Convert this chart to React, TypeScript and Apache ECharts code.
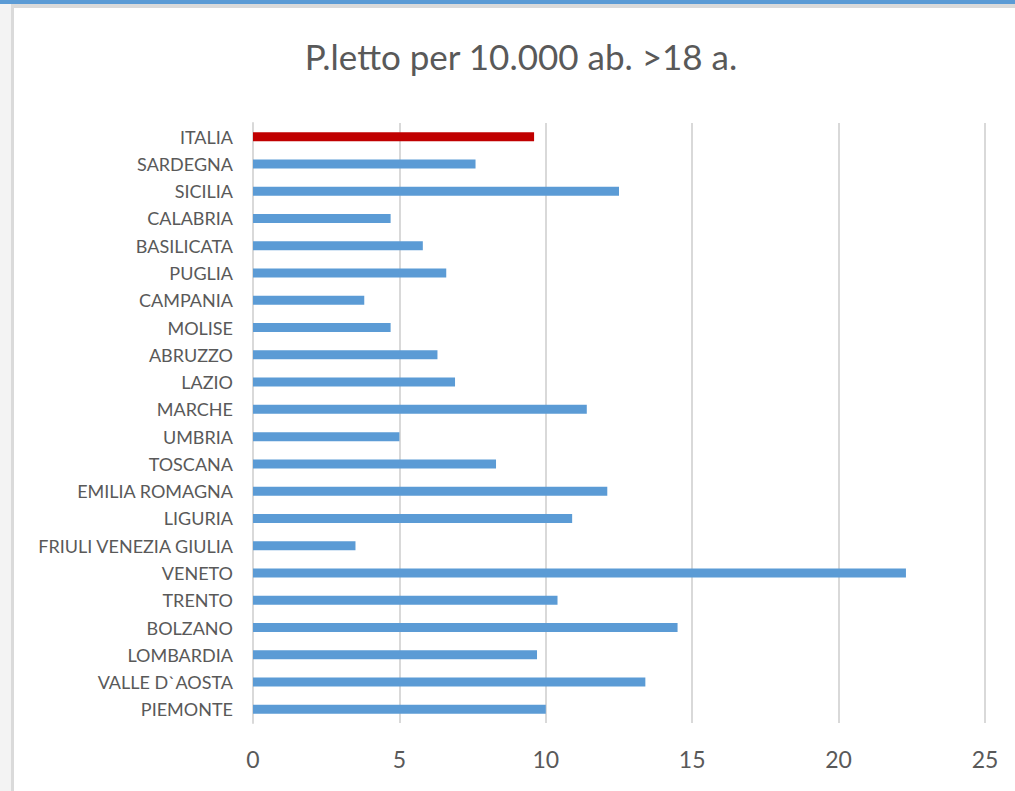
import React, { useEffect, useRef } from "react";
import * as echarts from "echarts";

const categories = [
  "ITALIA",
  "SARDEGNA",
  "SICILIA",
  "CALABRIA",
  "BASILICATA",
  "PUGLIA",
  "CAMPANIA",
  "MOLISE",
  "ABRUZZO",
  "LAZIO",
  "MARCHE",
  "UMBRIA",
  "TOSCANA",
  "EMILIA ROMAGNA",
  "LIGURIA",
  "FRIULI VENEZIA GIULIA",
  "VENETO",
  "TRENTO",
  "BOLZANO",
  "LOMBARDIA",
  "VALLE D`AOSTA",
  "PIEMONTE",
];

const values = [
  9.6, 7.6, 12.5, 4.7, 5.8, 6.6, 3.8, 4.7, 6.3, 6.9, 11.4, 5.0, 8.3, 12.1, 10.9,
  3.5, 22.3, 10.4, 14.5, 9.7, 13.4, 10.0,
];

const highlight = "ITALIA";
const titleText = "P.letto per 10.000 ab. >18 a.";

export default function App() {
  const ref = useRef<HTMLDivElement>(null);

  useEffect(() => {
    if (!ref.current) return;
    const chart = echarts.init(ref.current, undefined, { renderer: "svg" });
    const font = "Lato, 'Open Sans', sans-serif";
    chart.setOption({
      animation: false,
      backgroundColor: "#ffffff",
      graphic: [
        { type: "rect", shape: { x: 0, y: 0, width: 1015, height: 791 }, style: { fill: "#ffffff" }, z: -10 },
        { type: "rect", shape: { x: 0, y: 0, width: 11, height: 791 }, style: { fill: "#F3F3F3" }, z: -5 },
        { type: "rect", shape: { x: 0, y: 0, width: 1015, height: 4 }, style: { fill: "#5B9BD5" }, z: 5 },
        { type: "rect", shape: { x: 11, y: 4, width: 1004, height: 4 }, style: { fill: "#DADADA" }, z: 5 },
        { type: "rect", shape: { x: 11, y: 4, width: 3, height: 787 }, style: { fill: "#DADADA" }, z: 5 },
        {
          type: "text",
          x: 521,
          y: 56,
          style: {
            text: titleText,
            fill: "#595959",
            font: `35px ${font}`,
            textAlign: "center",
            textVerticalAlign: "middle",
          },
          z: 5,
        },
      ],
      grid: { left: 253, right: 30, top: 123, bottom: 68, containLabel: false },
      xAxis: {
        type: "value",
        min: 0,
        max: 25,
        interval: 5,
        axisLine: { show: false },
        axisTick: { show: false },
        axisLabel: { color: "#595959", fontSize: 23, fontFamily: font, margin: 24 },
        splitLine: { show: true, lineStyle: { color: "#D9D9D9", width: 2 } },
      },
      yAxis: {
        type: "category",
        data: categories,
        inverse: true,
        axisLine: { show: true, lineStyle: { color: "#D9D9D9", width: 2 } },
        axisTick: { show: false },
        axisLabel: { color: "#595959", fontSize: 18, fontFamily: font, margin: 20 },
      },
      series: [
        {
          type: "bar",
          barWidth: 9,
          data: values.map((v, i) => ({
            value: v,
            itemStyle: { color: categories[i] === highlight ? "#C00000" : "#5B9BD5" },
          })),
        },
      ],
    });
    return () => chart.dispose();
  }, []);

  return (
    <div
      ref={ref}
      style={{ position: "fixed", left: 0, top: 0, width: 1015, height: 791 }}
    />
  );
}
